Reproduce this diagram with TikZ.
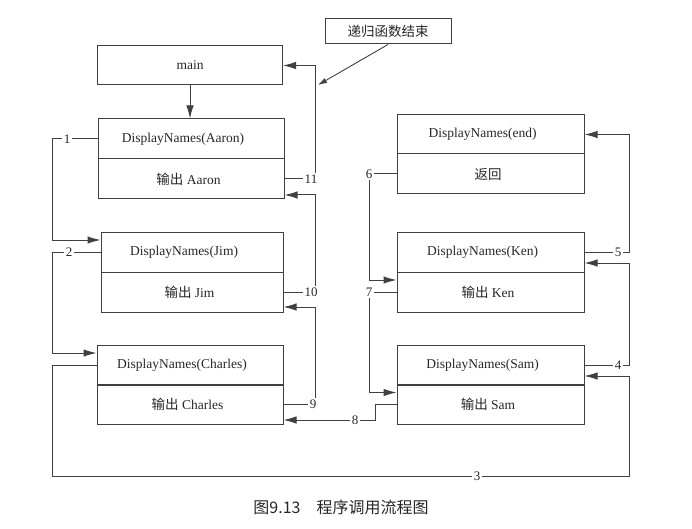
\documentclass[tikz,border=0pt]{standalone}
\usepackage{fontspec}
\setmainfont{Liberation Serif}
\newfontfamily\cjk{Noto Sans CJK SC}
\usetikzlibrary{arrows.meta}
\tikzset{
    plainbox/.style = {rectangle, minimum width=186pt, minimum height=40pt, inner sep=0pt, text centered, draw=black!75, line width=1pt, text=black!85, font=\fontsize{13.5}{16}\selectfont},
    callbox/.style = {plainbox, execute at end node=\hspace*{16pt}},
    outbox/.style = {plainbox, execute at end node=\hspace*{5pt}},
    notebox/.style = {rectangle, minimum width=126pt, minimum height=25pt, inner sep=0pt, text centered, draw=black!75, line width=1pt, text=black!85, font=\cjk\fontsize{13.5}{16}\selectfont},
    numlabel/.style = {inner sep=1.5pt, text=black!85, font=\fontsize{13}{15}\selectfont},
    wire/.style = {draw=black!75, line width=1pt},
    arrow/.style = {wire, -{Latex[length=13pt,width=7.5pt]}},
    pointer/.style = {draw=black!75, line width=0.9pt, -{Latex[length=9pt,width=5.5pt]}}
}

\begin{document}
\begin{tikzpicture}[x=1pt, y=-1pt]
\useasboundingbox (0,0) rectangle (692,529);
\coordinate (leftrail) at (52,0);
\coordinate (midrail) at (315,0);
\coordinate (rightrail) at (629,0);

% left column
\node (main) [plainbox, minimum height=39pt, minimum width=185pt] at (190,65.5) {main};
\node (aaron) [callbox] at (191,139) {DisplayNames(Aaron)};
\node (aaronout) [outbox] at (191,179) {{\cjk 输出} Aaron};
\node (jim) [callbox, minimum width=182pt] at (192,252) {DisplayNames(Jim)};
\node (jimout) [outbox, minimum width=182pt] at (192,292) {{\cjk 输出} Jim};
\node (charles) [callbox] at (190,365) {DisplayNames(Charles)};
\node (charlesout) [outbox] at (190,404.5) {{\cjk 输出} Charles};

% right column
\node (endcall) [callbox, minimum height=39pt, minimum width=187pt] at (490.5,134.5) {DisplayNames(end)};
\node (endret) [outbox, minimum width=187pt] at (490.5,174) {\cjk 返回};
\node (ken) [callbox, minimum width=187pt] at (490.5,252) {DisplayNames(Ken)};
\node (kenout) [outbox, minimum width=187pt] at (490.5,292) {{\cjk 输出} Ken};
\node (sam) [callbox, minimum width=187pt] at (490.5,365) {DisplayNames(Sam)};
\node (samout) [outbox, minimum width=187pt] at (490.5,404.5) {{\cjk 输出} Sam};

\node (note) [notebox] at (388,31.5) {递归函数结束};
\coordinate (notetip) at (318,85);

% step numbers
\node (n1) [numlabel] at (67,139) {1};
\node (n2) [numlabel] at (69,252) {2};
\node (n3) [numlabel] at (477,476) {3};
\node (n4) [numlabel] at (618,365) {4};
\node (n5) [numlabel] at (618,252) {5};
\node (n6) [numlabel] at (369,174) {6};
\node (n7) [numlabel] at (369,292) {7};
\node (n8) [numlabel] at (355,420) {8};
\node (n9) [numlabel] at (313,404.5) {9};
\node (n10) [numlabel] at (311,292) {10};
\node (n11) [numlabel] at (311,179) {11};

\node (caption) [text=black!85, font=\cjk\fontsize{16}{18}\selectfont] at (341,507) {图9.13\hspace{16pt}程序调用流程图};

\draw [arrow] (main) -- (main.south |- aaron.north);
\draw [pointer] (note.south) -- (notetip);

% calls
\draw [wire] (aaron.west) -- (n1.east);
\draw [arrow] (n1.west) -- (n1.west -| leftrail) |- ([yshift=12pt]jim.west);
\draw [wire] (jim.west) -- (n2.east);
\draw [arrow] (n2.west) -- (n2.west -| leftrail) |- ([yshift=12pt]charles.west);
\draw [wire] (charles.west) -- (charles.west -| leftrail) |- (n3.west);
\draw [arrow] (n3.east) -- (n3.east -| rightrail) |- ([yshift=-11pt]sam.east);
\draw [wire] (sam.east) -- (n4.west);
\draw [arrow] (n4.east) -- (n4.east -| rightrail) |- ([yshift=-11pt]ken.east);
\draw [wire] (ken.east) -- (n5.west);
\draw [arrow] (n5.east) -- (n5.east -| rightrail) |- (endcall.east);

% returns
\draw [wire] (endret.west) -- (n6.east);
\draw [arrow] (n6.south) |- ([yshift=12pt]kenout.west);
\draw [wire] (kenout.west) -- (n7.east);
\draw [arrow] (n7.south) |- ([yshift=12pt]samout.west);
\draw [wire] (samout.west) -- ++(-21,0) |- (n8.east);
\draw [arrow] (n8.west) -- ([yshift=-15.5pt]charlesout.east);
\draw [wire] (charlesout.east) -- (n9.west);
\draw [arrow] (n9.north -| midrail) |- ([yshift=-15pt]jimout.east);
\draw [wire] (jimout.east) -- (n10.west);
\draw [arrow] (n10.north -| midrail) |- ([yshift=-16pt]aaronout.east);
\draw [wire] (aaronout.east) -- (n11.west);
\draw [arrow] (n11.north -| midrail) |- (main.east);
\end{tikzpicture}
\end{document}
